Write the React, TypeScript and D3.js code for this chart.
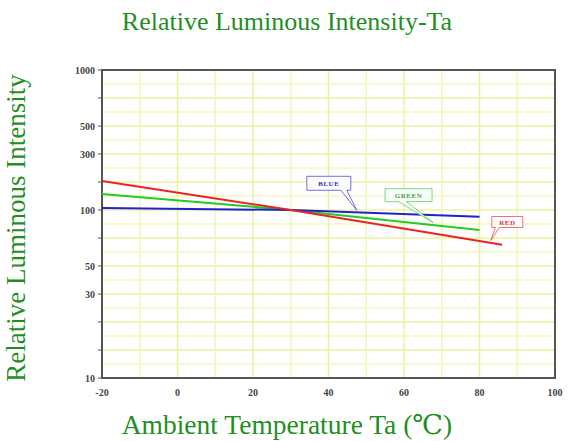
import { useEffect, useRef } from "react";
import * as d3 from "d3";

// temperature (°C) vs relative luminous intensity (%)
const blueTemps = [-20, 30, 80];
const blueValues = [104, 100, 92];
const greenTemps = [-20, 30, 80];
const greenValues = [137, 100, 78];
const redTemps = [-20, 30, 86];
const redValues = [177, 100, 65];

const xTicks = [-20, 0, 20, 40, 60, 80, 100];
const yTicks = [10, 30, 50, 100, 300, 500, 1000];

const App = () => {
  const svgRef = useRef<SVGSVGElement>(null);

  useEffect(() => {
    const svg = d3.select(svgRef.current);
    svg.selectAll("*").remove();

    const left = 102, right = 555, top = 70, bottom = 378;
    const step = (bottom - top) / 11;
    // the original axis puts its labels on evenly spaced slots
    const slots = [11, 8, 7, 5, 3, 2, 0];

    const x = d3.scaleLinear().domain([-20, 100]).range([left, right]);
    const y = d3.scaleLog().domain(yTicks).range(slots.map((s) => top + s * step));

    const serif = "'Liberation Serif', 'DejaVu Serif', serif";

    // grid
    const grid = svg.append("g");
    for (let k = 1; k < 22; k++) {
      grid.append("line").attr("x1", left).attr("x2", right)
        .attr("y1", top + k * step / 2).attr("y2", top + k * step / 2)
        .attr("stroke", k % 2 ? "#f4f7bc" : "#ecf29c").attr("stroke-width", 1.5);
    }
    for (let t = -10; t < 100; t += 10) {
      grid.append("line").attr("x1", x(t)).attr("x2", x(t))
        .attr("y1", top).attr("y2", bottom)
        .attr("stroke", t % 20 === 0 ? "#ecf29c" : "#f2f6b6").attr("stroke-width", 1.5);
    }

    // frame
    svg.append("rect").attr("x", left).attr("y", top).attr("width", right - left).attr("height", bottom - top)
      .attr("fill", "none").attr("stroke", "#555").attr("stroke-width", 2);

    // y ticks
    for (let s = 0; s <= 11; s++) {
      svg.append("line").attr("x1", left - 4).attr("x2", left).attr("y1", top + s * step).attr("y2", top + s * step)
        .attr("stroke", "#555").attr("stroke-width", 1);
    }
    svg.selectAll(".ylab").data(yTicks).enter().append("text")
      .attr("x", left - 7).attr("y", (d) => y(d) + 3.5)
      .attr("text-anchor", "end").style("font-family", serif).style("font-size", "10px").style("font-weight", "bold")
      .attr("fill", "#444").text((d) => d);

    svg.selectAll(".xlab").data(xTicks).enter().append("text")
      .attr("x", (d) => x(d)).attr("y", bottom + 18)
      .attr("text-anchor", "middle").style("font-family", serif).style("font-size", "10px").style("font-weight", "bold")
      .attr("fill", "#444").text((d) => d);

    const series = [
      { name: "GREEN", color: "#22cc22", text: "#33aa33", temps: greenTemps, values: greenValues, at: 67.7, box: [-48, -34, 47, 13], tail: [-10, -2] },
      { name: "BLUE", color: "#2222cc", text: "#3333aa", temps: blueTemps, values: blueValues, at: 47.5, box: [-50, -34, 44, 14], tail: [12, 18] },
      { name: "RED", color: "#ee2222", text: "#dd3333", temps: redTemps, values: redValues, at: 83, box: [1, -24, 31, 11], tail: [-12, -8] },
    ];

    // lines
    series.forEach((s) => {
      const pts = s.temps.map((t, i) => [x(t), y(s.values[i])] as [number, number]);
      svg.append("path").attr("d", d3.line()(pts)).attr("fill", "none").attr("stroke", s.color).attr("stroke-width", 2);
    });

    // callouts
    series.forEach((s) => {
      const interp = d3.scaleLinear().domain(s.temps).range(s.values);
      const tx = x(s.at), ty = y(interp(s.at)) - 2;
      const [bx, by, bw, bh] = s.box;
      const x0 = tx + bx, y0 = ty + by;
      const [ta, tb] = s.tail;
      const ax = x0 + bw / 2 + ta, bxx = x0 + bw / 2 + tb;
      const g = svg.append("g");
      g.append("path")
        .attr("d", `M${x0},${y0}H${x0 + bw}V${y0 + bh}H${Math.max(ax, bxx)}L${tx},${ty}L${Math.min(ax, bxx)},${y0 + bh}H${x0}Z`)
        .attr("fill", "#fcfcff").attr("stroke", s.color).attr("stroke-width", 0.8).attr("stroke-opacity", 0.8);
      g.append("text").attr("x", x0 + bw / 2).attr("y", y0 + bh / 2 + 2.5)
        .attr("text-anchor", "middle").style("font-family", serif).style("font-size", "7px").style("font-weight", "bold")
        .style("letter-spacing", "0.5px").attr("fill", s.text).text(s.name);
    });

    const green = "#1f8f1f";
    svg.append("text").attr("x", 287).attr("y", 30).attr("text-anchor", "middle")
      .style("font-family", serif).style("font-size", "26px").attr("fill", green).text("Relative Luminous Intensity-Ta");
    svg.append("text").attr("x", 287).attr("y", 434).attr("text-anchor", "middle")
      .style("font-family", serif).style("font-size", "27.5px").attr("fill", green).text("Ambient Temperature Ta (℃)");
    svg.append("text").attr("transform", "rotate(-90)").attr("x", -228).attr("y", 25).attr("text-anchor", "middle")
      .style("font-family", serif).style("font-size", "27px").attr("fill", green).text("Relative Luminous Intensity");
  }, []);

  return (
    <svg ref={svgRef} width={572} height={441}
      style={{ position: "absolute", left: 0, top: 0, background: "#fff" }} />
  );
};

export default App;
